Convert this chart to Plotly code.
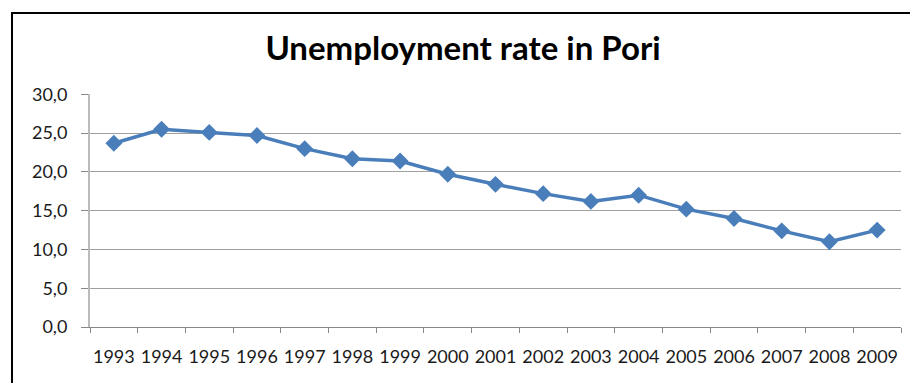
import plotly.graph_objects as go

years = [str(y) for y in range(1993, 2010)]
rates = [23.7, 25.5, 25.1, 24.7, 23.0, 21.7, 21.4, 19.7, 18.4, 17.2, 16.2, 17.0, 15.2, 14.0, 12.4, 11.0, 12.5]
y_ticks = [0, 5, 10, 15, 20, 25, 30]

blue = "#4A7EBB"
fig = go.Figure(go.Scatter(
    x=years, y=rates, mode="lines+markers",
    line=dict(color=blue, width=3.5),
    marker=dict(symbol="diamond", size=13, color=blue),
))

L, R, T, B = 90, 9, 94, 56
W, H = 910, 383
pw, ph = W - L - R, H - T - B

fig.update_layout(
    width=W, height=H,
    margin=dict(l=L, r=R, t=T, b=B, autoexpand=False),
    paper_bgcolor="white", plot_bgcolor="white",
    separators=",.",
    showlegend=False,
    font=dict(family="Lato", size=18, color="#1a1a1a"),
    title=dict(text="<b>Unemployment rate in Pori</b>", x=463 / W, xanchor="center",
               y=1 - 48 / H, yanchor="middle",
               font=dict(family="Lato", size=33, color="black")),
    xaxis=dict(type="category", range=[-0.5, len(years) - 0.5], tickson="boundaries",
               ticks="outside", ticklen=5, tickangle=0, automargin=False,
               tickcolor="#888", showline=True, linecolor="#888", linewidth=1,
               showgrid=False, tickfont=dict(size=18), ticklabelstandoff=13),
    yaxis=dict(range=[0, 30.05], tickvals=y_ticks, tickformat=".1f", ticks="outside",
               ticklen=7, tickcolor="#888", showline=True, linecolor="#bbb", linewidth=2,
               showgrid=True, gridcolor="#a0a0a0", gridwidth=1, zeroline=False,
               automargin=False, tickfont=dict(size=18), ticklabelstandoff=10),
    shapes=[dict(type="rect", xref="paper", yref="paper",
                 x0=(12 - L) / pw, x1=(W + 20 - L) / pw,
                 y0=-(B + 20) / ph, y1=1 + (T - 13) / ph,
                 line=dict(color="black", width=2), layer="above")],
)

fig.write_html("out.html")
